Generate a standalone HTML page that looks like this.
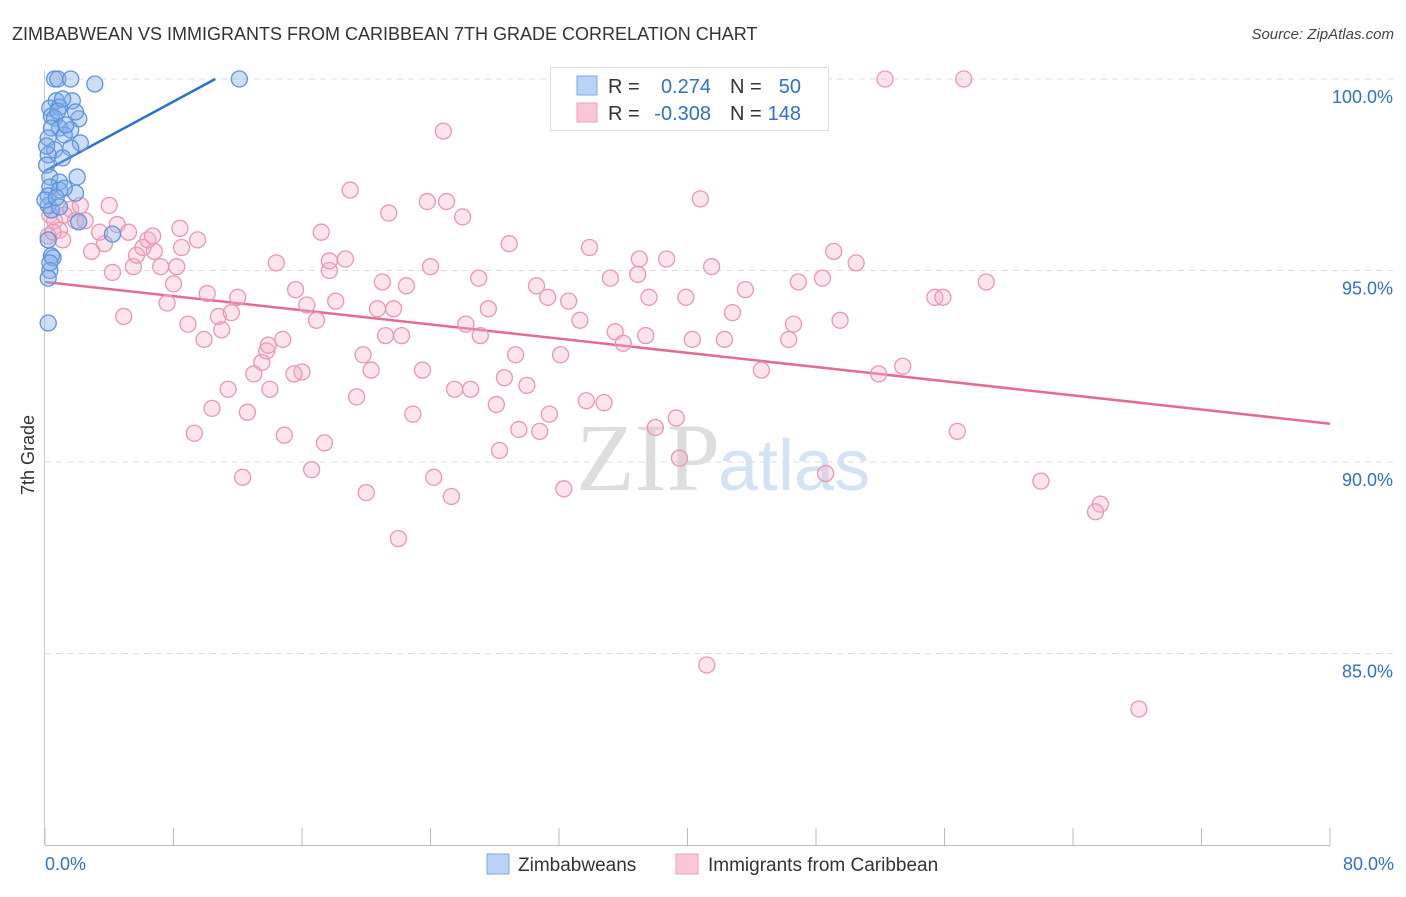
<!DOCTYPE html>
<html><head><meta charset="utf-8"><style>
body{margin:0;background:#fff;font-family:"Liberation Sans",sans-serif;}
svg text{font-family:"Liberation Sans",sans-serif;}
</style></head><body>
<svg id="chart" width="1406" height="892" xmlns="http://www.w3.org/2000/svg">
<text x="12" y="40" font-size="18" fill="#333">ZIMBABWEAN VS IMMIGRANTS FROM CARIBBEAN 7TH GRADE CORRELATION CHART</text>
<text x="1394" y="39" font-size="15" fill="#444" text-anchor="end" font-style="italic">Source: ZipAtlas.com</text>
<text x="720" y="490" font-size="96" fill="#ddd" text-anchor="end" font-family="Liberation Serif" style="font-family:'Liberation Serif',serif">ZIP</text>
<text x="718" y="490" font-size="72" fill="#d3e2f5">atlas</text>
<g id="grid"></g>
<g id="axes"></g>
<g id="lines"></g>
<g id="pts"></g>
<text x="34" y="455" font-size="18" fill="#333" text-anchor="middle" transform="rotate(-90 34 455)">7th Grade</text>
<g>
<rect x="550.5" y="67.5" width="278" height="63" fill="#fff" stroke="#ddd"/>
<rect x="577" y="76" width="20" height="19" fill="#b8d3f5" stroke="#7aa8e6"/>
<rect x="577" y="103" width="20" height="19" fill="#f9c6d6" stroke="#eba0ba"/>
<text x="608" y="93" font-size="20" fill="#333">R =</text>
<text x="711" y="93" font-size="20" fill="#2f6fd0" text-anchor="end">0.274</text>
<text x="730" y="93" font-size="20" fill="#333">N =</text>
<text x="801" y="93" font-size="20" fill="#2f6fd0" text-anchor="end">50</text>
<text x="608" y="120" font-size="20" fill="#333">R =</text>
<text x="711" y="120" font-size="20" fill="#2f6fd0" text-anchor="end">-0.308</text>
<text x="730" y="120" font-size="20" fill="#333">N =</text>
<text x="801" y="120" font-size="20" fill="#2f6fd0" text-anchor="end">148</text>
</g>
<g>
<rect x="487" y="854" width="22" height="20" fill="#b8d3f5" stroke="#7aa8e6"/>
<text x="518" y="871" font-size="19" fill="#333">Zimbabweans</text>
<rect x="676" y="854" width="22" height="20" fill="#f9c6d6" stroke="#eba0ba"/>
<text x="708" y="871" font-size="19" fill="#333">Immigrants from Caribbean</text>
</g>
</svg>
<script>
const yTicks=[100,95,90,85];
const yTickLabels=["100.0%","95.0%","90.0%","85.0%"];
const xTicks=[0,8,16,24,32,40,48,56,64,72,80];
const blueX=[0.6,0.8,1.6,3.1,12.1,0.7,1.7,0.3,0.9,0.4,0.6,2.1,0.9,1.6,0.4,1.2,0.2,2.2,1.6,0.6,1.1,0.2,0.1,0.3,2.0,0.9,0.3,1.9,0.2,0.9,0.2,0.4,0.9,2.1,0.2,0.4,0.5,0.3,0.2,0.2,4.2,0.3,0,1.2,0.7,1.3,0.1,0.8,1.9,1.1];
const blueY=[100,100,100,99.87,100,99.43,99.43,99.24,99.27,99.03,98.98,98.96,98.72,98.67,98.72,98.54,98.46,98.33,98.2,98.15,97.94,98.02,97.75,97.44,97.44,97.31,97.18,97.02,96.95,97.1,96.7,96.58,96.66,96.27,95.8,95.38,95.33,95.0,94.8,93.63,95.95,95.2,96.84,97.15,96.9,98.8,98.25,99.16,99.14,99.48];
const pinkX=[52.3,57.2,24.8,40.8,19.0,21.4,23.8,25.0,26.0,17.2,28.9,33.9,14.4,18.7,17.7,17.7,24.0,21.0,22.5,27.0,30.6,31.3,32.6,35.2,36.9,37.0,38.7,41.5,37.6,39.9,43.6,46.9,48.4,49.1,50.5,55.4,55.9,58.6,15.6,16.3,18.1,16.9,20.7,21.7,26.2,27.6,27.1,22.2,21.2,33.3,35.5,36.0,37.4,40.3,42.3,42.8,46.3,46.6,49.5,29.3,32.1,19.8,20.3,23.5,16.0,15.5,13.5,13.8,13.9,14.8,8.4,9.5,6.8,7.2,8.2,8.0,10.1,12.0,7.6,10.8,11.6,8.9,9.9,11.0,4.9,4.2,5.5,5.7,3.7,4.5,5.2,6.1,6.4,6.7,8.5,4.0,2.9,3.4,11.4,10.4,12.6,14.0,13.0,19.4,22.9,25.5,26.5,28.6,30.0,28.1,31.4,33.7,34.8,44.6,51.9,53.4,38.0,39.3,29.5,30.8,9.3,14.9,17.4,28.3,39.5,48.6,56.8,12.3,16.6,20.0,24.2,25.3,32.3,62.0,65.7,65.4,22.0,41.2,68.1,0.3,0.6,0.9,1.2,1.6,1.9,2.2,2.5,1.1,0.2,0.5];
const pinkY=[100,100,98.64,96.87,97.1,96.5,96.8,96.8,96.4,96.0,95.7,95.6,95.2,95.3,95.0,95.25,95.1,94.7,94.6,94.8,94.6,94.3,94.2,94.8,94.9,95.3,95.3,95.1,94.3,94.3,94.5,94.7,94.8,95.5,95.2,94.3,94.3,94.7,94.5,94.1,94.2,93.7,94.0,94.0,93.6,94.0,93.3,93.3,93.3,93.7,93.4,93.1,93.3,93.2,93.2,93.9,93.2,93.6,93.7,92.8,92.8,92.8,92.4,92.4,92.35,92.3,92.6,92.9,93.05,93.2,96.1,95.8,95.5,95.1,95.1,94.65,94.4,94.3,94.15,93.8,93.9,93.6,93.2,93.45,93.8,94.95,95.1,95.4,95.7,96.2,96.0,95.6,95.8,95.9,95.6,96.7,95.5,96.0,91.9,91.4,91.3,91.9,92.3,91.7,91.25,91.9,91.9,92.2,92.0,91.5,91.25,91.6,91.55,92.4,92.3,92.5,90.9,91.15,90.85,90.8,90.75,90.7,90.5,90.3,90.1,89.7,90.8,89.6,89.8,89.2,89.6,89.1,89.3,89.5,88.9,88.7,88.0,84.7,83.55,96.45,96.3,96.05,96.45,96.6,96.3,96.7,96.3,95.8,95.9,96.0];
const blueTrend=[[0,97.6],[10.6,100]];
const pinkTrend=[[0,94.7],[80,91.0]];
const NS="http://www.w3.org/2000/svg";
const X=v=>45+v/80*1285;
const Y=v=>79+(100-v)*38.3;
function mk(tag,attrs,parent){const e=document.createElementNS(NS,tag);for(const k in attrs)e.setAttribute(k,attrs[k]);parent.appendChild(e);return e;}
const grid=document.getElementById('grid'),axes=document.getElementById('axes'),lines=document.getElementById('lines'),pts=document.getElementById('pts');
yTicks.forEach((t,i)=>{
 const l=mk('line',{x1:45,x2:1394,y1:Y(t),y2:Y(t),stroke:'#ddd','stroke-dasharray':'6,5'},grid);
 
 
 const tx=mk('text',{x:1393,y:Y(t)+24,'font-size':18,fill:'#2f6fd0','text-anchor':'end'},axes);
 tx.textContent=yTickLabels[i];
 
 
});
const xa=mk('line',{x1:45,x2:1330,y1:845.5,y2:845.5,stroke:'#bbb'},axes);


const ya=mk('line',{x1:44.5,x2:44.5,y1:70,y2:845,stroke:'#ccc'},axes);


xTicks.forEach(t=>{
 const l=mk('line',{x1:X(t),x2:X(t),y1:828,y2:845,stroke:'#bbb'},axes);
 
 
});
[[0,'0.0%','start',45],[80,'80.0%','end',1394]].forEach(a=>{
 const tx=mk('text',{x:a[3],y:870,'font-size':18,fill:'#2f6fd0','text-anchor':a[2]},axes);
 tx.textContent=a[1];
 
 
});
function drawPts(xs,ys,fill,stroke,name){
 xs.forEach((x,i)=>{
  const c=mk('circle',{cx:X(x),cy:Y(ys[i]),r:8,fill:fill,stroke:stroke,'stroke-width':1.3},pts);
  
  
 });
}
drawPts(pinkX,pinkY,'rgba(246,176,200,0.35)','#e897b3','point-caribbean');
drawPts(blueX,blueY,'rgba(130,175,232,0.4)','#5d93dc','point-zimbabwean');
const bt=mk('line',{x1:X(blueTrend[0][0]),y1:Y(blueTrend[0][1]),x2:X(blueTrend[1][0]),y2:Y(blueTrend[1][1]),stroke:'#2a6fd6','stroke-width':2.5},lines);


const pt=mk('line',{x1:X(pinkTrend[0][0]),y1:Y(pinkTrend[0][1]),x2:X(pinkTrend[1][0]),y2:Y(pinkTrend[1][1]),stroke:'#e56a98','stroke-width':2.5},lines);


</script>
</body></html>
